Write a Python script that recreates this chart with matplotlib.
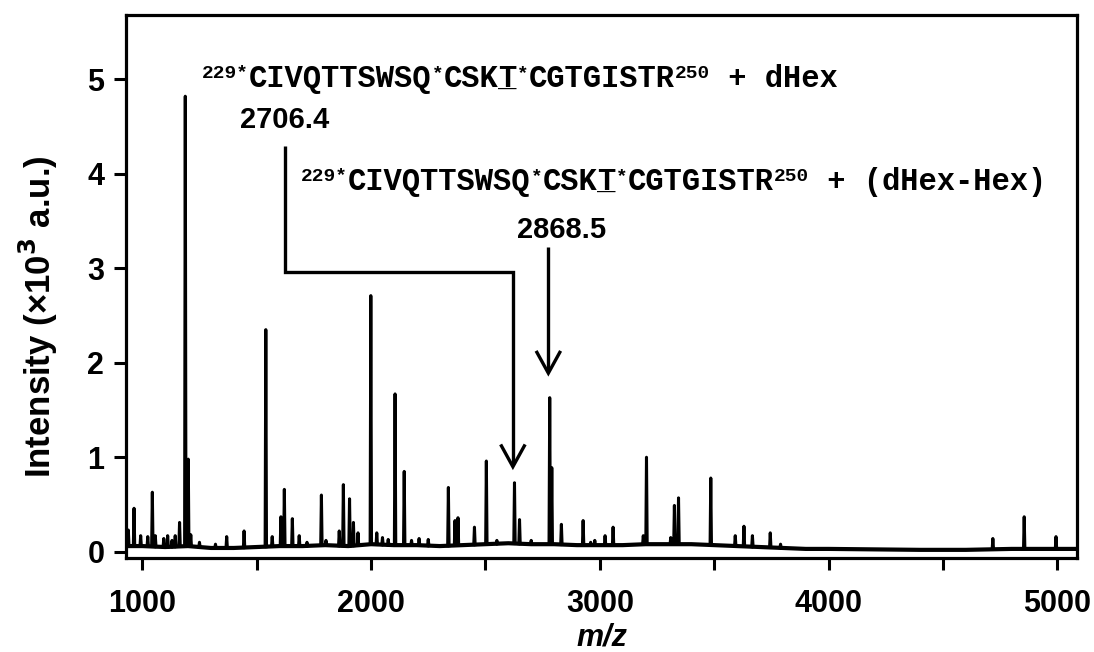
import numpy as np
import matplotlib
matplotlib.use('Agg')
import matplotlib.pyplot as plt
from matplotlib.transforms import offset_copy

# peak list (m/z, intensity x10^3)
peak_mz = [939, 964, 993, 1024, 1044, 1057, 1094, 1111, 1130, 1144, 1163, 1188, 1201, 1212,
           1250, 1320, 1369, 1445, 1540, 1568, 1606, 1621, 1656, 1686, 1720, 1783, 1803,
           1861, 1879, 1906, 1923, 1943, 1999, 2025, 2050, 2075, 2105, 2145, 2177, 2210,
           2250, 2338, 2367, 2380, 2452, 2504, 2550, 2627, 2649, 2700, 2781, 2790, 2832,
           2927, 2960, 2978, 3023, 3058, 3190, 3204, 3310, 3326, 3344, 3485, 3592, 3630,
           3667, 3745, 3790, 4718, 4855, 4994]
peak_int = [0.23, 0.46, 0.17, 0.16, 0.63, 0.17, 0.14, 0.17, 0.12, 0.17, 0.31, 4.82, 0.98, 0.18,
            0.10, 0.08, 0.16, 0.22, 2.35, 0.16, 0.37, 0.66, 0.35, 0.17, 0.10, 0.60, 0.12,
            0.22, 0.71, 0.56, 0.31, 0.20, 2.71, 0.20, 0.15, 0.13, 1.67, 0.85, 0.12, 0.14,
            0.13, 0.68, 0.33, 0.36, 0.26, 0.96, 0.12, 0.73, 0.34, 0.12, 1.63, 0.89, 0.29,
            0.33, 0.10, 0.12, 0.17, 0.26, 0.17, 1.00, 0.15, 0.49, 0.57, 0.78, 0.17, 0.27,
            0.17, 0.20, 0.08, 0.14, 0.37, 0.16]

# baseline level along the spectrum
base_mz = [925, 1000, 1100, 1200, 1300, 1400, 1500, 1600, 1700, 1800, 1900, 2000, 2100, 2200,
           2300, 2400, 2500, 2600, 2700, 2800, 2900, 3000, 3100, 3200, 3300, 3400, 3500,
           3600, 3700, 3800, 3900, 4000, 4200, 4400, 4600, 4800, 5000, 5090]
base_int = [0.06, 0.06, 0.05, 0.06, 0.04, 0.04, 0.05, 0.06, 0.06, 0.07, 0.06, 0.08, 0.07, 0.07,
            0.06, 0.07, 0.08, 0.09, 0.08, 0.08, 0.07, 0.07, 0.07, 0.08, 0.08, 0.08, 0.07,
            0.06, 0.05, 0.04, 0.03, 0.03, 0.025, 0.02, 0.02, 0.03, 0.03, 0.03]

label1 = [("229*", 'sup'), ("CIVQTTSWSQ", ''), ("*", 'sup'), ("CSK", ''), ("T", 'ul'),
          ("*", 'sup'), ("CGTGISTR", ''), ("250", 'sup'), (" + dHex", '')]
label2 = label1[:-1] + [(" + (dHex-Hex)", '')]
mass1 = "2706.4"
mass2 = "2868.5"

plt.rcParams['font.family'] = 'Liberation Sans'
plt.rcParams['font.weight'] = 'bold'

fig = plt.figure(figsize=(10.94, 6.52), dpi=100)
ax = fig.add_axes([0.1152, 0.1442, 0.8693, 0.8328])

# baseline drawn a bit heavier, like the noisy trace in the original
ax.plot(base_mz, base_int, color='black', lw=3.0)

# each peak as a narrow triangle standing on the baseline
half = 3.0
xs, ys = [], []
for m, h in zip(peak_mz, peak_int):
    foot = np.interp(m, base_mz, base_int)
    xs += [m - half, m, m + half, np.nan]
    ys += [foot, h, foot, np.nan]
ax.plot(xs, ys, color='black', lw=2.2)

ax.set_xlim(929, 5086)
ax.set_ylim(-0.066, 5.68)

for s in ax.spines.values():
    s.set_linewidth(2.3)
ax.set_xticks([1000, 2000, 3000, 4000, 5000])
ax.set_xticks([1500, 2500, 3500, 4500], minor=True)
ax.set_yticks([0, 1, 2, 3, 4, 5])
ax.tick_params(which='both', direction='out', length=8.6, width=2.2, labelsize=22)
ax.tick_params(axis='x', which='both', pad=14)
ax.tick_params(axis='y', pad=7)

ax.set_xlabel("m/z", fontsize=22, style='italic', fontweight='bold', labelpad=2)
ax.set_ylabel("Intensity (×10$^3$ a.u.)", fontsize=25, fontweight='bold')
ax.yaxis.set_label_coords(-0.069, 0.445)

# peptide labels drawn piece by piece (monospace, so widths are known)
FS = 22
FS_SUP = 14
RAISE = 6.3


def seq_text(x0, y0, pieces):
    off = 0.0
    for s, kind in pieces:
        fs = FS_SUP if kind == 'sup' else FS
        dy = RAISE if kind == 'sup' else 0
        tr = offset_copy(ax.transData, fig=fig, x=off, y=dy, units='points')
        ax.text(x0, y0, s, transform=tr, fontsize=fs, family='Liberation Mono',
                fontweight='bold', ha='left', va='baseline')
        if kind == 'ul':
            ax.text(x0, y0, "_", transform=tr, fontsize=fs, family='Liberation Mono',
                    fontweight='bold', ha='left', va='baseline')
        off += 0.6 * fs * len(s)


seq_text(1260, 4.92, label1)
seq_text(1693, 3.83, label2)
ax.text(1623, 4.48, mass1, fontsize=21, fontweight='bold', ha='center', va='baseline')
ax.text(2831, 3.32, mass2, fontsize=21, fontweight='bold', ha='center', va='baseline')

# connector and arrows
lw = 2.4
ax.plot([1625, 1625, 2620, 2620], [4.29, 2.96, 2.96, 0.93], color='black', lw=lw,
        solid_joinstyle='miter', solid_capstyle='butt')
ax.plot([2620 - 50, 2620, 2620 + 50], [0.90 + 0.22, 0.90, 0.90 + 0.22], color='black', lw=lw,
        solid_joinstyle='miter')
ax.plot([2775, 2775], [3.23, 1.92], color='black', lw=lw, solid_capstyle='butt')
ax.plot([2775 - 50, 2775, 2775 + 50], [1.89 + 0.22, 1.89, 1.89 + 0.22], color='black', lw=lw,
        solid_joinstyle='miter')

fig.savefig('out.png', dpi=100)
